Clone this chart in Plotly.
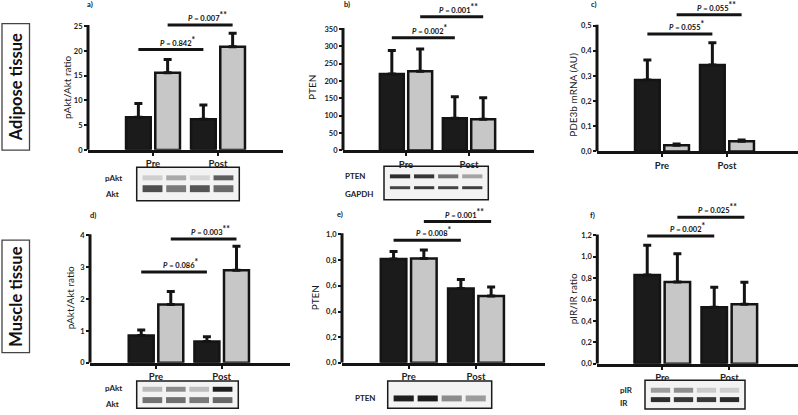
import plotly.graph_objects as go

W, H = 798, 415
FONT = "Lato, 'Open Sans', sans-serif"

categories = ["Pre", "Post"]

# ---------------- data ----------------
# a) adipose pAkt/Akt ratio
a_black = [6.6, 6.2]
a_black_err = [2.8, 2.9]
a_gray = [15.6, 20.9]
a_gray_err = [2.7, 2.7]
a_sig = [20.3, 25.3]
a_p = ["0.842", "0.007"]
a_yticks = [0, 5, 10, 15, 20, 25]
a_yticktext = ["0", "5", "10", "15", "20", "25"]

# b) adipose PTEN
b_black = [220, 93]
b_black_err = [68, 62]
b_gray = [228, 90]
b_gray_err = [64, 62]
b_sig = [325, 385]
b_p = ["0.002", "0.001"]
b_yticks = [0, 50, 100, 150, 200, 250, 300, 350]
b_yticktext = ["0", "50", "100", "150", "200", "250", "300", "350"]

# c) adipose PDE3b mRNA
c_black = [0.284, 0.344]
c_black_err = [0.08, 0.088]
c_gray = [0.025, 0.041]
c_gray_err = [0.005, 0.005]
c_sig = [0.467, 0.543]
c_p = ["0.055", "0.055"]
c_yticks = [0.0, 0.1, 0.2, 0.3, 0.4, 0.5]
c_yticktext = ["0,0", "0,1", "0,2", "0,3", "0,4", "0,5"]

# d) muscle pAkt/Akt ratio
d_black = [0.86, 0.67]
d_black_err = [0.17, 0.15]
d_gray = [1.83, 2.91]
d_gray_err = [0.41, 0.75]
d_sig = [2.85, 3.89]
d_p = ["0.086", "0.003"]
d_yticks = [0, 1, 2, 3, 4]
d_yticktext = ["0", "1", "2", "3", "4"]

# e) muscle PTEN
e_black = [0.808, 0.58]
e_black_err = [0.06, 0.07]
e_gray = [0.812, 0.52]
e_gray_err = [0.067, 0.07]
e_sig = [0.954, 1.10]
e_p = ["0.008", "0.001"]
e_yticks = [0.0, 0.2, 0.4, 0.6, 0.8, 1.0]
e_yticktext = ["0,0", "0,2", "0,4", "0,6", "0,8", "1,0"]

# f) muscle pIR/IR ratio
f_black = [0.83, 0.53]
f_black_err = [0.278, 0.185]
f_gray = [0.766, 0.557]
f_gray_err = [0.264, 0.206]
f_sig = [1.194, 1.37]
f_p = ["0.002", "0.025"]
f_yticks = [0.0, 0.2, 0.4, 0.6, 0.8, 1.0, 1.2]
f_yticktext = ["0,0", "0,2", "0,4", "0,6", "0,8", "1,0", "1,2"]


def fx(px):
    return px / W


def fy(py):
    return 1 - py / H


# ---------------- layout of panels (pixel geometry) ----------------
panels = [
    dict(label="a)", lab=(90, 5), black=a_black, berr=a_black_err, gray=a_gray, gerr=a_gray_err,
         sig=a_sig, p=a_p, yt=a_yticks, ytt=a_yticktext, ytitle="pAkt/Akt ratio", yt_xy=(67, 89),
         xl=88, xr=283, pre=153, unit=65, y0=151.7, ppu=5.0, ymax=28.6, ytop=25.3),
    dict(label="b)", lab=(347, 5), black=b_black, berr=b_black_err, gray=b_gray, gerr=b_gray_err,
         sig=b_sig, p=b_p, yt=b_yticks, ytt=b_yticktext, ytitle="PTEN", yt_xy=(312, 89),
         xl=343, xr=534, pre=406, unit=63, y0=152.3, ppu=123.0 / 350, ymax=412, ytop=353),
    dict(label="c)", lab=(594, 5), black=c_black, berr=c_black_err, gray=c_gray, gerr=c_gray_err,
         sig=c_sig, p=c_p, yt=c_yticks, ytt=c_yticktext, ytitle="PDE3b mRNA (AU)", yt_xy=(573, 96),
         xl=597, xr=798, pre=662, unit=65, y0=153.3, ppu=254.6, ymax=0.575, ytop=0.504),
    dict(label="d)", lab=(93, 218), black=d_black, berr=d_black_err, gray=d_gray, gerr=d_gray_err,
         sig=d_sig, p=d_p, yt=d_yticks, ytt=d_yticktext, ytitle="pAkt/Akt ratio", yt_xy=(70, 302),
         xl=90, xr=290, pre=156, unit=65.7, y0=367.3, ppu=32.25, ymax=4.47, ytop=4.04),
    dict(label="e)", lab=(340, 217), black=e_black, berr=e_black_err, gray=e_gray, gerr=e_gray_err,
         sig=e_sig, p=e_p, yt=e_yticks, ytt=e_yticktext, ytitle="PTEN", yt_xy=(315, 302),
         xl=342, xr=545, pre=408.7, unit=67.3, y0=367.3, ppu=130.0, ymax=1.18, ytop=1.01),
    dict(label="f)", lab=(592, 218), black=f_black, berr=f_black_err, gray=f_gray, gerr=f_gray_err,
         sig=f_sig, p=f_p, yt=f_yticks, ytt=f_yticktext, ytitle="pIR/IR ratio", yt_xy=(573, 303),
         xl=597.3, xr=798, pre=662.3, unit=67, y0=368.3, ppu=108.3, ymax=1.47, ytop=1.21),
]

BLACK = "#1b1b1b"
GRAY = "#c7c7c7"
EDGE = "#141414"
B_OFF, G_OFF, BW = -0.415, 0.035, 0.38
b_center = B_OFF + BW / 2
g_center = G_OFF + BW / 2

fig = go.Figure()
shapes = []
annotations = []
xpos = list(range(len(categories)))

for i, pn in enumerate(panels, start=1):
    xa = "x" if i == 1 else f"x{i}"
    ya = "y" if i == 1 else f"y{i}"
    for vals, errs, off, col in [(pn["black"], pn["berr"], B_OFF, BLACK),
                                 (pn["gray"], pn["gerr"], G_OFF, GRAY)]:
        fig.add_trace(go.Bar(
            x=xpos, y=vals, offset=off, width=BW, xaxis=xa, yaxis=ya,
            marker=dict(color=col, line=dict(color=EDGE, width=2.5)),
            error_y=dict(type="data", array=errs, arrayminus=[0] * len(errs), symmetric=False,
                         color=EDGE, thickness=3, width=4),
            showlegend=False, hoverinfo="skip"))

    xr0 = (pn["xl"] - pn["pre"]) / pn["unit"]
    xr1 = (pn["xr"] - pn["pre"]) / pn["unit"]
    top_px = pn["y0"] - pn["ymax"] * pn["ppu"]
    axkey = "xaxis" if i == 1 else f"xaxis{i}"
    aykey = "yaxis" if i == 1 else f"yaxis{i}"
    fig.layout[axkey] = dict(
        domain=[fx(pn["xl"]), fx(pn["xr"])], range=[xr0, xr1], anchor=ya,
        showline=True, linewidth=3, linecolor=EDGE, ticks="outside", ticklen=3, tickwidth=2,
        tickcolor=EDGE, tickvals=xpos, ticktext=categories, showgrid=False, zeroline=False,
        tickfont=dict(family=FONT, size=9.5, color="#222", weight="bold"), fixedrange=True)
    fig.layout[aykey] = dict(
        domain=[fy(pn["y0"]), fy(top_px)], range=[0, pn["ymax"]], anchor=xa,
        showline=False, ticks="outside", ticklen=3, tickwidth=2, tickcolor=EDGE,
        tickvals=pn["yt"], ticktext=pn["ytt"], showgrid=False, zeroline=False,
        tickfont=dict(family=FONT, size=7.5, color="#222", weight="bold"), fixedrange=True)

    # y axis line (stops at the top tick)
    shapes.append(dict(type="line", xref=f"{xa} domain", yref=ya, x0=0, x1=0, y0=0, y1=pn["ytop"],
                       line=dict(color=EDGE, width=3), xsizemode="pixel", xanchor=0))
    # significance bars
    for k, (c0, stars) in enumerate([(b_center, "*"), (g_center, "**")]):
        yv = pn["sig"][k]
        shapes.append(dict(type="line", xref=xa, yref=ya, x0=c0, x1=1 + c0, y0=yv, y1=yv,
                           line=dict(color=EDGE, width=3)))
        annotations.append(dict(
            xref=xa, yref=ya, x=c0 + 0.5, y=yv, xshift=7, yshift=0, xanchor="center", yanchor="bottom",
            text=f"<i>P</i> = {pn['p'][k]}<sup><span style='font-size:8.5px'>{stars}</span></sup>",
            showarrow=False,
            font=dict(family=FONT, size=7.5, color="#111", weight="bold")))

    annotations.append(dict(xref="paper", yref="paper", x=fx(pn["lab"][0]), y=fy(pn["lab"][1]),
                            text=pn["label"], showarrow=False, xanchor="center", yanchor="middle",
                            font=dict(family=FONT, size=7.5, color="#111", weight="bold")))
    annotations.append(dict(xref="paper", yref="paper", x=fx(pn["yt_xy"][0]), y=fy(pn["yt_xy"][1]),
                            text=pn["ytitle"], textangle=-90, showarrow=False,
                            xanchor="center", yanchor="middle",
                            font=dict(family=FONT, size=10, color="#1a1a1a")))

# ---------------- side labels ----------------
for (x0, y0, x1, y1, txt) in [(2, 24, 29.5, 152, "Adipose tissue"), (2, 243, 29.5, 357, "Muscle tissue")]:
    shapes.append(dict(type="rect", xref="paper", yref="paper", x0=fx(x0), x1=fx(x1), y0=fy(y1), y1=fy(y0),
                       line=dict(color="#444", width=1.3)))
    annotations.append(dict(xref="paper", yref="paper", x=fx((x0 + x1) / 2 + 0.5), y=fy((y0 + y1) / 2),
                            text=txt, textangle=-90, showarrow=False, xanchor="center", yanchor="middle",
                            font=dict(family=FONT, size=16.5, color="#111", weight="bold")))

# ---------------- western blot insets (decorative) ----------------
blots = [
    dict(box=(136.7, 169.3, 239.3, 203.3),
         rows=[(180, 5, ["#cfcfcf", "#a9a9a9", "#d6d6d6", "#5e5e5e"]),
               (191, 7, ["#4e4e4e", "#7a7a7a", "#555555", "#6a6a6a"])],
         labels=[("pAkt", 103, 180, "left"), ("Akt", 103, 196, "left")]),
    dict(box=(384, 168.3, 488.3, 202.3),
         rows=[(178.5, 4, ["#2e2e2e", "#363636", "#707070", "#a3a3a3"]),
               (190, 3, ["#444444", "#3a3a3a", "#444444", "#3e3e3e"])],
         labels=[("PTEN", 343, 178, "left"), ("GAPDH", 343, 196, "left")]),
    dict(box=(136.7, 385.7, 238.3, 413.3),
         rows=[(394, 5, ["#b9b9b9", "#8a8a8a", "#bdbdbd", "#1e1e1e"]),
               (405, 6, ["#727272", "#707070", "#7a7a7a", "#686868"])],
         labels=[("pAkt", 103, 393, "left"), ("Akt", 103, 408.5, "left")]),
    dict(box=(387.7, 385.7, 491.7, 413.3),
         rows=[(403.3, 6, ["#1e1e1e", "#1c1c1c", "#8c8c8c", "#9c9c9c"])],
         labels=[("PTEN", 378, 403, "right")]),
    dict(box=(645, 385, 745, 414),
         rows=[(395, 5, ["#9c9c9c", "#8e8e8e", "#cacaca", "#cdcdcd"]),
               (404.5, 5, ["#2e2e2e", "#383838", "#383838", "#2a2a2a"])],
         labels=[("pIR", 618, 395, "left"), ("IR", 618, 408, "left")]),
]
for bl in blots:
    bx0, by0, bx1, by1 = bl["box"]
    shapes.append(dict(type="rect", xref="paper", yref="paper", x0=fx(bx0), x1=fx(bx1), y0=fy(by1), y1=fy(by0),
                       line=dict(color="#1a1a1a", width=1.5), fillcolor="#f3f3f3", layer="below"))
    inset = 4
    lane_w = (bx1 - bx0 - 2 * inset) / 4
    for (cy, h, cols) in bl["rows"]:
        for j, col in enumerate(cols):
            cx = bx0 + inset + (j + 0.5) * lane_w
            shapes.append(dict(type="rect", xref="paper", yref="paper",
                               x0=fx(cx - lane_w * 0.42), x1=fx(cx + lane_w * 0.42),
                               y0=fy(cy + h / 2), y1=fy(cy - h / 2),
                               line=dict(width=0), fillcolor=col, layer="below"))
    for (t, lx, ly, anc) in bl["labels"]:
        annotations.append(dict(xref="paper", yref="paper", x=fx(lx), y=fy(ly), text=t, showarrow=False,
                                xanchor=anc, yanchor="middle",
                                font=dict(family=FONT, size=8, color="#222", weight="bold")))

fig.update_layout(
    width=W, height=H, margin=dict(l=0, r=0, t=0, b=0),
    paper_bgcolor="white", plot_bgcolor="rgba(0,0,0,0)",
    barmode="overlay", separators=",.",
    font=dict(family=FONT, color="#222"),
    shapes=shapes, annotations=annotations, showlegend=False,
)

fig.write_html("out.html", config={"displayModeBar": False},
               post_script="document.body.style.margin='0px';document.body.style.padding='0px';")
